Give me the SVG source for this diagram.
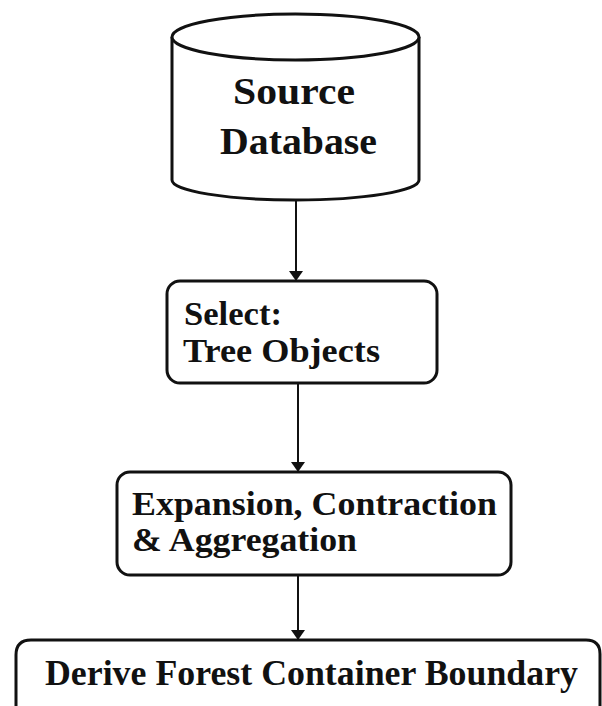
<svg xmlns="http://www.w3.org/2000/svg" width="602" height="706" viewBox="0 0 602 706">
  <style>
    .shape { fill: #ffffff; stroke: #111111; stroke-width: 3; }
    .label { font-family: "Liberation Serif", "Times New Roman", serif; font-weight: bold; fill: #111111; }
    .edge { stroke: #111111; stroke-width: 2; fill: none; }
  </style>
  <defs>
    <marker id="arrow" viewBox="0 0 10 14" refX="10" refY="7" markerWidth="10" markerHeight="14" markerUnits="userSpaceOnUse" orient="auto">
      <path d="M0,0 L10,7 L0,14 Z" fill="#111111"/>
    </marker>
  </defs>
  <rect width="602" height="706" fill="#ffffff"/>

  <!-- database cylinder -->
  <g id="source-database">
    <path class="shape" d="M172,37 L172,180 A123.5,20 0 0 0 419,180 L419,37 A123.5,23 0 0 0 172,37 Z"/>
    <path class="shape" d="M172,37 A123.5,23 0 0 0 419,37"/>
    <text class="label" x="233" y="104" font-size="37" textLength="122" lengthAdjust="spacingAndGlyphs">Source</text>
    <text class="label" x="220" y="154" font-size="37" textLength="157" lengthAdjust="spacingAndGlyphs">Database</text>
  </g>

  <g id="select-tree-objects">
    <rect class="shape" x="167" y="281" width="270" height="102" rx="13" ry="13"/>
    <text class="label" x="184" y="325" font-size="34" textLength="98" lengthAdjust="spacingAndGlyphs">Select:</text>
    <text class="label" x="183" y="362" font-size="34" textLength="197" lengthAdjust="spacingAndGlyphs">Tree Objects</text>
  </g>

  <g id="expansion-contraction">
    <rect class="shape" x="117" y="472" width="394" height="103" rx="13" ry="13"/>
    <text class="label" x="132" y="515" font-size="34" textLength="365" lengthAdjust="spacingAndGlyphs">Expansion, Contraction</text>
    <text class="label" x="132" y="551" font-size="34" textLength="225" lengthAdjust="spacingAndGlyphs">&amp; Aggregation</text>
  </g>

  <g id="derive-boundary">
    <path class="shape" d="M16,708 L16,655 Q16,640 31,640 L586,640 Q600,640 600,654 L600,708"/>
    <text class="label" x="45" y="685" font-size="35" textLength="533" lengthAdjust="spacingAndGlyphs">Derive Forest Container Boundary</text>
  </g>

  <g id="connectors">
    <line class="edge" x1="296" y1="200" x2="296" y2="281" marker-end="url(#arrow)"/>
    <line class="edge" x1="298" y1="384" x2="298" y2="472" marker-end="url(#arrow)"/>
    <line class="edge" x1="298" y1="576" x2="298" y2="640" marker-end="url(#arrow)"/>
  </g>
</svg>
